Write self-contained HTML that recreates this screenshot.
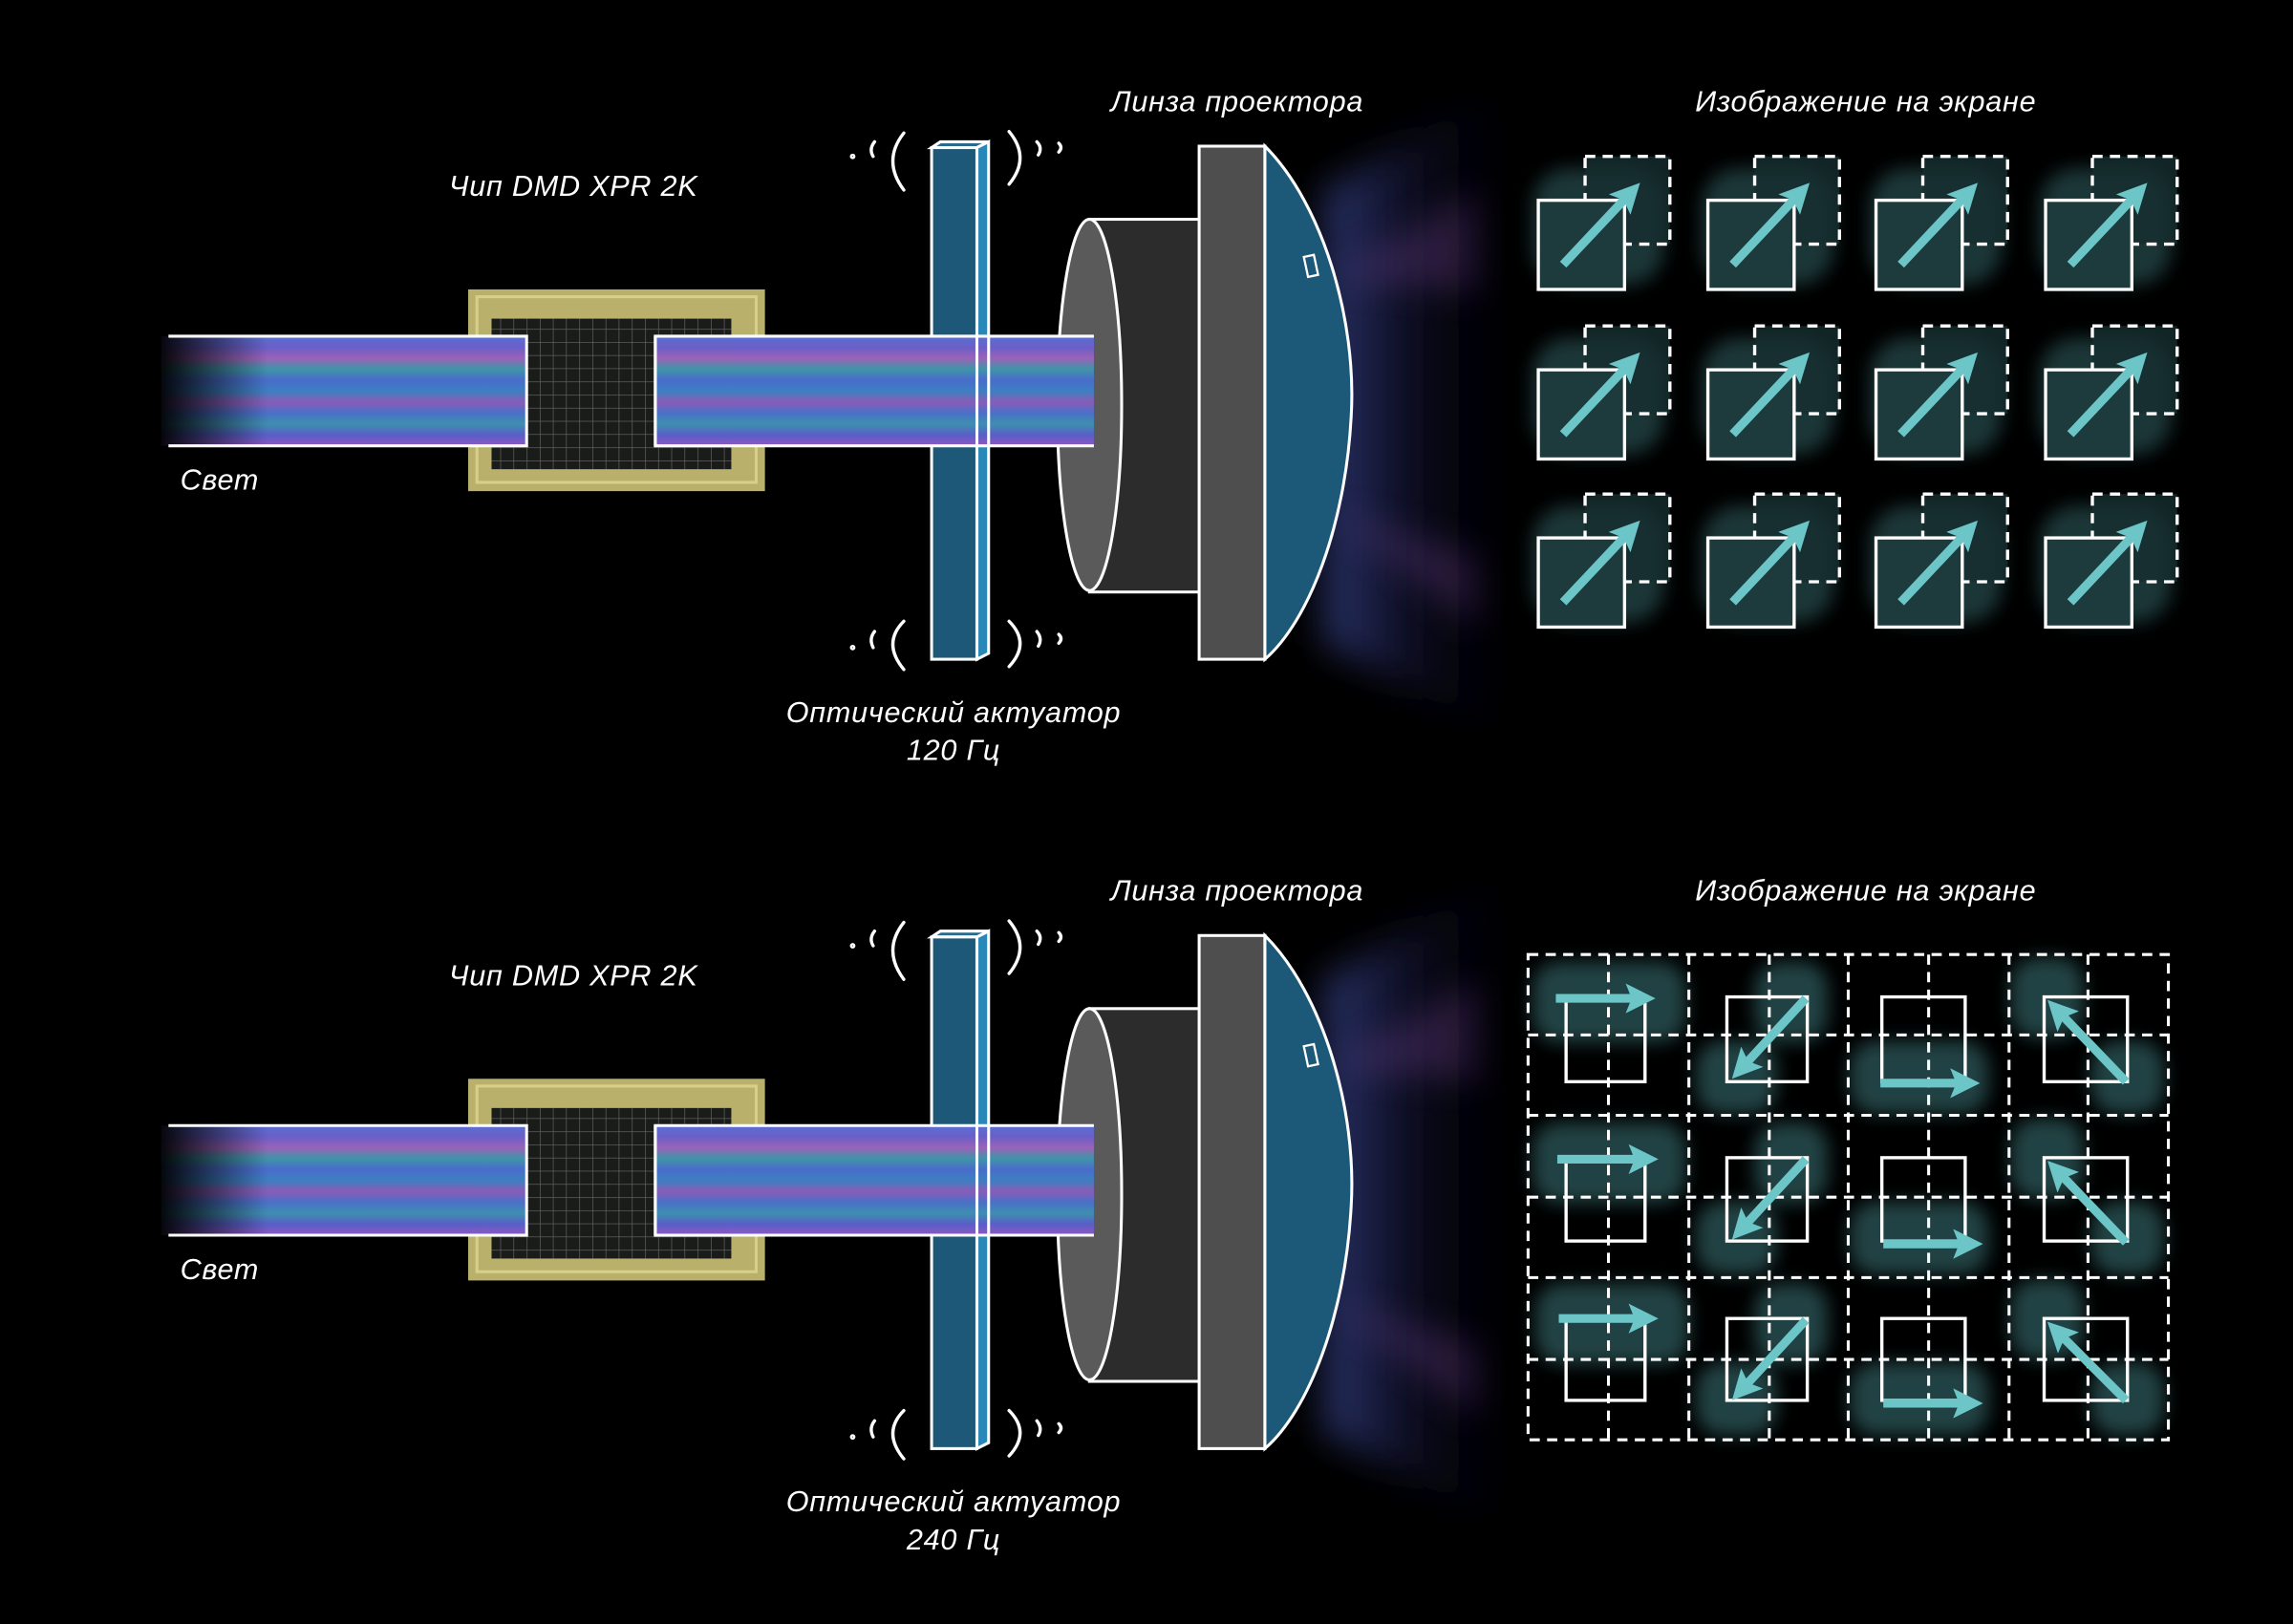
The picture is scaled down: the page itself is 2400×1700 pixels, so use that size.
<!DOCTYPE html>
<html><head><meta charset="utf-8"><style>
html,body{margin:0;padding:0;background:#000;}
svg{display:block;}
text{font-family:"Liberation Sans",sans-serif;font-style:italic;fill:#fff;font-size:20px;letter-spacing:0.5px;}
</style></head><body>
<svg width="2400" height="1700" viewBox="0 0 1568 1111" xmlns="http://www.w3.org/2000/svg">
<defs>
<linearGradient id="beam" x1="0" y1="0" x2="0" y2="1">
<stop offset="0" stop-color="#5a6fd0"/><stop offset="0.1" stop-color="#6a5fc8"/>
<stop offset="0.2" stop-color="#9a62b8"/><stop offset="0.3" stop-color="#3f95a8"/>
<stop offset="0.4" stop-color="#4a6ccc"/><stop offset="0.5" stop-color="#3c80c0"/>
<stop offset="0.6" stop-color="#8a5cb8"/><stop offset="0.7" stop-color="#4a70c8"/>
<stop offset="0.8" stop-color="#3e8fb0"/><stop offset="0.9" stop-color="#5a5ec8"/>
<stop offset="1" stop-color="#8e58c0"/>
</linearGradient>
<linearGradient id="fade" x1="0" y1="0" x2="1" y2="0">
<stop offset="0" stop-color="#fff" stop-opacity="0"/><stop offset="0.3" stop-color="#fff" stop-opacity="1"/>
</linearGradient>
<mask id="fm"><rect x="105" y="0" width="260" height="1111" fill="url(#fade)"/></mask>
<pattern id="mesh" width="9" height="9" patternUnits="userSpaceOnUse">
<rect width="9" height="9" fill="#1a1c1a"/><path d="M0 0H9M0 0V9" stroke="#6a6a6a" stroke-width="0.8"/>
</pattern>
<linearGradient id="glow" x1="0" y1="0" x2="1" y2="0">
<stop offset="0" stop-color="#4a5ab8" stop-opacity="0.6"/><stop offset="0.5" stop-color="#2a2a70" stop-opacity="0.25"/>
<stop offset="1" stop-color="#101030" stop-opacity="0"/>
</linearGradient>
<filter id="b12" x="-50%" y="-50%" width="200%" height="200%"><feGaussianBlur stdDeviation="12"/></filter>
<filter id="b6" x="-50%" y="-50%" width="200%" height="200%"><feGaussianBlur stdDeviation="6"/></filter>
<marker id="ah" viewBox="0 0 10 10" refX="6" refY="5" markerWidth="3.4" markerHeight="3.4" orient="auto"><path d="M0 0L10 5L0 10L2 5Z" fill="#6cc6c8"/></marker>

<g id="proj">
 <path d="M905 130 L1035 50 L1035 510 L905 440 Z" fill="url(#glow)" filter="url(#b12)"/>
 <path d="M910 190 L1010 130 L1010 200 Z" fill="#7a4a9a" opacity="0.3" filter="url(#b12)"/>
 <path d="M910 350 L1010 380 L1010 430 Z" fill="#7a4a9a" opacity="0.3" filter="url(#b12)"/>
 <!-- chip -->
 <rect x="320" y="198" width="203" height="138" fill="#b9b06c"/>
 <rect x="326" y="203" width="191" height="127" fill="none" stroke="#d8d08a" stroke-width="2"/>
 <rect x="336" y="218" width="164" height="103" fill="url(#mesh)"/>
 <rect x="110" y="230" width="250" height="75" fill="url(#beam)" mask="url(#fm)"/>
 <path d="M115 230H360V305H115" fill="none" stroke="#fff" stroke-width="2"/>
 <!-- actuator -->
 <path d="M637 101 L643 97 L676 97 L668 101 Z" fill="#2a6a8a" stroke="#fff" stroke-width="2"/>
 <rect x="637" y="101" width="31" height="350" fill="#1d5878" stroke="#fff" stroke-width="2"/>
 <path d="M668 101 L676 97 L676 447 L668 451 Z" fill="#2a88b8" stroke="#fff" stroke-width="2"/>
 <!-- waves -->
 <g fill="none" stroke="#fff" stroke-width="2.2" stroke-linecap="round">
  <path d="M618 91 Q603 110 618 130"/><path d="M598 97 Q594 102 597 107"/><circle cx="583" cy="107" r="0.8"/>
  <path d="M690 90 Q705 108 690 126"/><path d="M709 97 Q713 101 710 106"/><path d="M724 98 Q727 101 724 104"/>
  <path d="M618 425 Q603 440 618 458"/><path d="M598 432 Q594 437 597 443"/><circle cx="583" cy="443" r="0.8"/>
  <path d="M690 425 Q705 440 690 456"/><path d="M709 432 Q713 437 710 442"/><path d="M724 434 Q727 437 724 440"/>
 </g>
 <!-- lens -->
 <rect x="745" y="150" width="77" height="255" fill="#2c2c2c" stroke="#fff" stroke-width="2"/>
 <ellipse cx="745" cy="277" rx="22" ry="127" fill="#5a5a5a" stroke="#fff" stroke-width="2"/>
 <rect x="820" y="100" width="45" height="351" fill="#4e4e4e" stroke="#fff" stroke-width="2"/>
 <path d="M865 100 C905 140 928 220 924 285 C920 360 895 425 865 451 Z" fill="#1c5878" stroke="#fff" stroke-width="2"/>
 <rect x="893" y="175" width="7" height="14" fill="#1c5878" stroke="#fff" stroke-width="1.5" transform="rotate(-12 896 182)"/>
 <!-- beam right (over actuator and lens edge) -->
 <rect x="448" y="230" width="300" height="75" fill="url(#beam)"/>
 <path d="M748 230H448V305H748" fill="none" stroke="#fff" stroke-width="2"/>
 <path d="M448 230V305M668 230V305M676 230V305" stroke="#fff" stroke-width="2"/>
 <!-- labels -->
 <text x="846" y="76" text-anchor="middle">Линза проектора</text>
 <text x="1276" y="76" text-anchor="middle">Изображение на экране</text>
 <text x="392" y="134" text-anchor="middle">Чип DMD XPR 2K</text>
 <text x="123" y="335">Свет</text>
 <text x="652" y="494" text-anchor="middle">Оптический актуатор</text>
</g>

<g id="cellA">
 <rect x="1048" y="115" width="90" height="80" rx="25" fill="#2d5a5c" opacity="0.6" filter="url(#b6)"/>
 <rect x="1084" y="107" width="58" height="60" fill="#162e30" opacity="0.8"/>
 <rect x="1084" y="107" width="58" height="60" fill="none" stroke="#fff" stroke-width="2.2" stroke-dasharray="7 5"/>
 <rect x="1052" y="137" width="59" height="61" fill="#1d3a3c" stroke="#fff" stroke-width="2.2"/>
 <line x1="1069" y1="181" x2="1116" y2="131" stroke="#6cc6c8" stroke-width="6" marker-end="url(#ah)"/>
</g>
</defs>

<rect width="1568" height="1111" fill="#000"/>

<use href="#proj"/>
<text x="652" y="520" text-anchor="middle">120 Гц</text>
<use href="#proj" transform="translate(0,540)"/>
<text x="652" y="1060" text-anchor="middle">240 Гц</text>

<use href="#cellA"/>
<use href="#cellA" transform="translate(116,0)"/>
<use href="#cellA" transform="translate(231,0)"/>
<use href="#cellA" transform="translate(347,0)"/>
<use href="#cellA" transform="translate(0,116)"/>
<use href="#cellA" transform="translate(116,116)"/>
<use href="#cellA" transform="translate(231,116)"/>
<use href="#cellA" transform="translate(347,116)"/>
<use href="#cellA" transform="translate(0,231)"/>
<use href="#cellA" transform="translate(116,231)"/>
<use href="#cellA" transform="translate(231,231)"/>
<use href="#cellA" transform="translate(347,231)"/>

<g fill="#2a5254" opacity="0.8" filter="url(#b6)">
 <rect x="1048" y="658" width="105" height="55" rx="18"/><rect x="1048" y="768" width="105" height="55" rx="18"/><rect x="1050" y="878" width="105" height="55" rx="18"/>
 <rect x="1200" y="658" width="50" height="55" rx="18"/><rect x="1160" y="712" width="55" height="50" rx="18"/>
 <rect x="1200" y="768" width="50" height="55" rx="18"/><rect x="1160" y="822" width="55" height="50" rx="18"/>
 <rect x="1200" y="878" width="50" height="55" rx="18"/><rect x="1160" y="932" width="55" height="50" rx="18"/>
 <rect x="1265" y="712" width="95" height="50" rx="18"/><rect x="1265" y="822" width="95" height="50" rx="18"/><rect x="1265" y="932" width="95" height="50" rx="18"/>
 <rect x="1375" y="655" width="50" height="55" rx="18"/><rect x="1430" y="712" width="50" height="50" rx="18"/>
 <rect x="1375" y="765" width="50" height="55" rx="18"/><rect x="1430" y="822" width="50" height="50" rx="18"/>
 <rect x="1375" y="875" width="50" height="55" rx="18"/><rect x="1430" y="932" width="50" height="50" rx="18"/>
</g>
<g stroke="#fff" stroke-width="2" stroke-dasharray="7 5" fill="none">
 <rect x="1045" y="653" width="438" height="332"/>
 <path d="M1045 708H1483M1045 763H1483M1045 819H1483M1045 874H1483M1045 930H1483"/>
 <path d="M1100 653V985M1155 653V985M1210 653V985M1264 653V985M1319 653V985M1374 653V985M1428 653V985"/>
</g>
<g stroke="#fff" stroke-width="2.2" fill="none">
 <rect x="1071" y="682" width="54" height="58"/><rect x="1181" y="682" width="55" height="58"/><rect x="1287" y="682" width="57" height="58"/><rect x="1398" y="682" width="57" height="58"/>
 <rect x="1071" y="792" width="54" height="57"/><rect x="1181" y="792" width="55" height="57"/><rect x="1287" y="792" width="57" height="57"/><rect x="1398" y="792" width="57" height="57"/>
 <rect x="1071" y="902" width="54" height="56"/><rect x="1181" y="902" width="55" height="56"/><rect x="1287" y="902" width="57" height="56"/><rect x="1398" y="902" width="57" height="56"/>
</g>
<g stroke="#6cc6c8" stroke-width="6" marker-end="url(#ah)">
 <line x1="1064" y1="683" x2="1124" y2="683"/><line x1="1065" y1="793" x2="1126" y2="793"/><line x1="1066" y1="902" x2="1126" y2="902"/>
 <line x1="1235" y1="683" x2="1190" y2="732"/><line x1="1235" y1="793" x2="1190" y2="842"/><line x1="1235" y1="903" x2="1190" y2="952"/>
 <line x1="1286" y1="741" x2="1346" y2="741"/><line x1="1288" y1="851" x2="1348" y2="851"/><line x1="1288" y1="960" x2="1348" y2="960"/>
 <line x1="1454" y1="740" x2="1406" y2="690"/><line x1="1454" y1="850" x2="1406" y2="800"/><line x1="1454" y1="958" x2="1406" y2="910"/>
</g>
</svg>
</body></html>
